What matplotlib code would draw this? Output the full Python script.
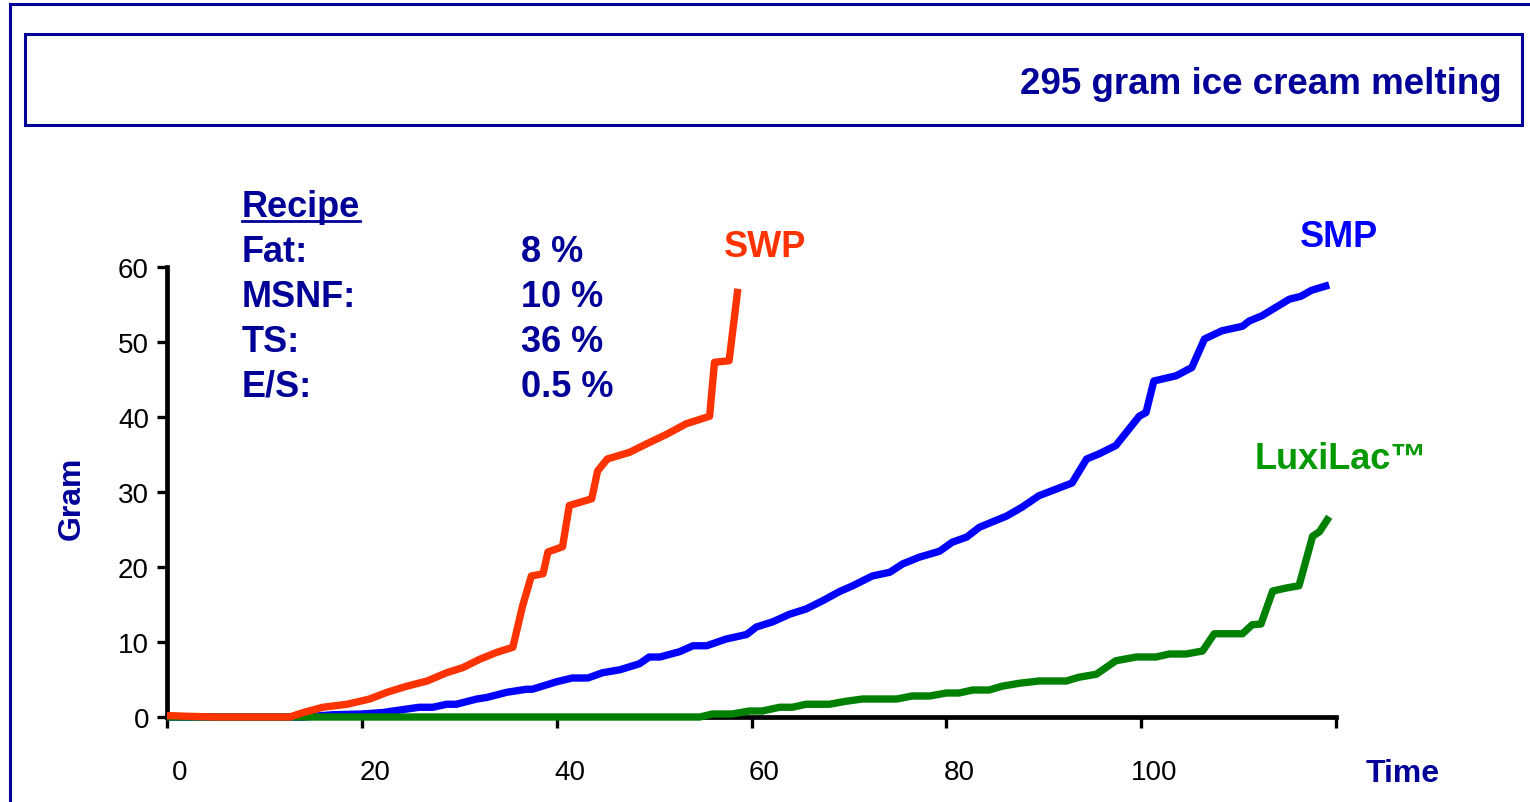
import matplotlib
matplotlib.use("Agg")
import matplotlib.pyplot as plt
from matplotlib.lines import Line2D
from matplotlib.patches import Rectangle
from matplotlib.transforms import ScaledTranslation

plt.rcParams["font.family"] = ["Liberation Sans", "DejaVu Sans"]

W, H = 1530, 803
NAVY = "#000099"

# melting data (time, gram)
swp_t = [0, 2, 5, 8, 11, 12.6, 14, 16, 18.5, 20.8, 22.6, 24.6, 26.7, 28.7, 30.4,
         32.1, 33.8, 35.5, 36.5, 37.4, 38.6, 39.1, 40.6, 41.3, 43.6, 44.2, 45.2,
         47.5, 49.2, 51.3, 53.3, 55.7, 56.2, 57.7, 58.6]
swp_g = [0.2, 0.1, 0, 0, 0, 0, 0.6, 1.3, 1.7, 2.4, 3.3, 4.1, 4.8, 5.9, 6.6,
         7.7, 8.6, 9.3, 14.8, 18.8, 19.1, 22, 22.7, 28.2, 29.1, 32.8, 34.4,
         35.3, 36.4, 37.7, 39.1, 40.1, 47.3, 47.5, 57.1]

smp_t = [0, 5, 10, 14, 17, 20, 22.2, 23.2, 25.9, 27.3, 28.7, 29.7, 31.8, 32.8, 34.9,
         36.9, 37.5, 40, 41.6, 43.2, 44.7, 46.5, 48.5, 49.5, 50.6, 52.6, 54, 55.4,
         57.4, 59.5, 60.5, 62.2, 63.9, 65.6, 67.3, 69, 70.4, 72.4, 74.2, 75.5, 77.2,
         79.3, 80.6, 82.1, 83.4, 84.7, 86.2, 87.8, 89.5, 91.3, 92.9, 94.4, 95.7,
         97.4, 99.8, 100.5, 101.3, 103.6, 105.2, 106.5, 108.3, 110.4, 111.1, 112.4,
         115.2, 116.4, 117.5, 119.3]
smp_g = [0, 0, 0, 0, 0.3, 0.4, 0.6, 0.8, 1.3, 1.3, 1.7, 1.7, 2.4, 2.6, 3.3,
         3.7, 3.7, 4.7, 5.2, 5.2, 5.9, 6.3, 7.1, 8, 8, 8.7, 9.5, 9.5,
         10.4, 11, 12, 12.7, 13.7, 14.4, 15.5, 16.7, 17.5, 18.8, 19.3, 20.4, 21.3,
         22.1, 23.3, 24, 25.3, 26, 26.8, 28, 29.5, 30.4, 31.2, 34.4, 35.1,
         36.2, 40.1, 40.6, 44.8, 45.5, 46.6, 50.4, 51.5, 52.1, 52.8, 53.5,
         55.7, 56.1, 56.9, 57.6]

lux_t = [0, 20, 40, 54.7, 56, 58, 59.8, 61.1, 62.9, 64.2, 65.6, 68, 69.7, 71.4, 74.9,
         76.5, 78.3, 80, 81.3, 82.7, 84.4, 85.7, 87.5, 89.5, 92.3, 93.6, 95.4, 97.4,
         99.5, 101.5, 102.9, 104.6, 106.3, 107.5, 110.4, 111.4, 112.3, 113.5, 114.9,
         116.2, 117.6, 118.3, 119.3]
lux_g = [0, 0, 0, 0, 0.4, 0.4, 0.8, 0.8, 1.3, 1.3, 1.7, 1.7, 2.1, 2.4, 2.4,
         2.8, 2.8, 3.2, 3.2, 3.6, 3.6, 4.1, 4.5, 4.8, 4.8, 5.3, 5.7, 7.5,
         8, 8, 8.4, 8.4, 8.8, 11.1, 11.1, 12.3, 12.4, 16.8, 17.2,
         17.5, 24.1, 24.7, 26.7]

x_ticks = [0, 20, 40, 60, 80, 100, 120]
x_labels = ["0", "20", "40", "60", "80", "100", ""]
y_ticks = [0, 10, 20, 30, 40, 50, 60]

recipe_names = ["Fat:", "MSNF:", "TS:", "E/S:"]
recipe_values = ["8 %", "10 %", "36 %", "0.5 %"]


def fx(x):
    return x / W


def fy(y):
    return 1 - y / H


fig = plt.figure(figsize=(W / 100, H / 100), dpi=100)

# frames
fig.add_artist(Line2D([fx(10), fx(W)], [fy(5), fy(5)], color=NAVY, lw=2.2))
fig.add_artist(Line2D([fx(10), fx(10)], [fy(5), fy(H)], color=NAVY, lw=2.2))
fig.add_artist(Rectangle((fx(25), fy(126)), fx(1522) - fx(25), fy(35) - fy(126),
                         fill=False, edgecolor=NAVY, lw=2.2, transform=fig.transFigure))
fig.text(fx(1502), fy(94), "295 gram ice cream melting", ha="right", va="baseline",
         fontsize=26.5, fontweight="bold", color=NAVY)

ax = fig.add_axes([fx(167), fy(718), fx(1336) - fx(167), fy(268) - fy(718)])
ax.plot(smp_t, smp_g, color="#0000FF", lw=5.3, solid_capstyle="butt", clip_on=False, zorder=3)
ax.plot(lux_t, lux_g, color="#008000", lw=5.3, solid_capstyle="butt", clip_on=False, zorder=3)
ax.plot(swp_t, swp_g, color="#FF3300", lw=5.3, solid_capstyle="butt", clip_on=False, zorder=4)

ax.set_xlim(0, 120)
ax.set_ylim(0, 60)
for s in ["top", "right"]:
    ax.spines[s].set_visible(False)
for s in ["left", "bottom"]:
    ax.spines[s].set_linewidth(3.4)
ax.set_xticks(x_ticks)
ax.set_xticklabels(x_labels)
ax.set_yticks(y_ticks)
ax.tick_params(axis="x", length=8, width=2.4, pad=22, labelsize=20)
ax.tick_params(axis="y", length=7, width=2.4, pad=6, labelsize=20)
shift = ScaledTranslation(13 / 100, 0, fig.dpi_scale_trans)
for lab in ax.get_xticklabels():
    lab.set_transform(lab.get_transform() + shift)

# axis titles
fig.text(fx(80), fy(498), "Gram", rotation=90, rotation_mode="anchor", ha="center",
         va="baseline", fontsize=23, fontweight="bold", color=NAVY)
fig.text(fx(1366), fy(782), "Time", ha="left", va="baseline",
         fontsize=23, fontweight="bold", color=NAVY)

# series labels
fig.text(fx(724), fy(257), "SWP", fontsize=26, fontweight="bold", color="#FF3300", va="baseline")
fig.text(fx(1300), fy(247), "SMP", fontsize=26, fontweight="bold", color="#0000FF", va="baseline")
fig.text(fx(1255), fy(469), "LuxiLac\u2122", fontsize=26, fontweight="bold", color="#009900",
         va="baseline")

# recipe block
rec = fig.text(fx(242), fy(217), "Recipe", fontsize=26, fontweight="bold", color=NAVY,
               va="baseline")
for i, (n, v) in enumerate(zip(recipe_names, recipe_values)):
    base = 262 + 45 * i
    fig.text(fx(242), fy(base), n, fontsize=26, fontweight="bold", color=NAVY, va="baseline")
    fig.text(fx(521), fy(base), v, fontsize=26, fontweight="bold", color=NAVY, va="baseline")

fig.canvas.draw()
bb = rec.get_window_extent()
fig.add_artist(Line2D([bb.x0 / W, bb.x1 / W], [fy(222), fy(222)], color=NAVY, lw=2))

fig.savefig("out.png", dpi=100)
